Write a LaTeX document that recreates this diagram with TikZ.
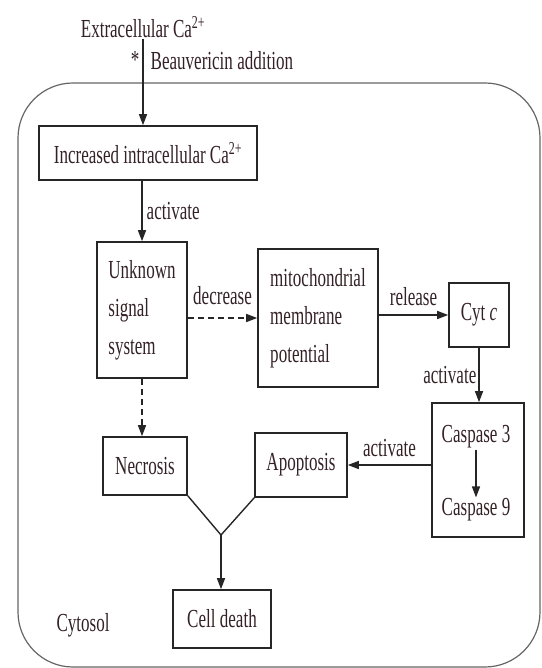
\documentclass[tikz,border=0pt]{standalone}
\usepackage{fontspec}
\setmainfont[FakeStretch=0.655]{Liberation Serif}
\usepackage{tikz}
\usetikzlibrary{arrows.meta}
\definecolor{figline}{rgb}{0.15,0.15,0.15}
\definecolor{figwall}{rgb}{0.40,0.40,0.40}
\definecolor{figtext}{rgb}{0.20,0.13,0.15}

\begin{document}
\begin{tikzpicture}[
  x=1pt,y=-1pt,
  font=\fontsize{26}{38}\selectfont,
  box/.style={draw=figline,line width=1.6pt,inner sep=0pt,align=left,text=figtext},
  lbl/.style={text=figtext,inner sep=1pt},
  conn/.style={draw=figline,line width=1.4pt},
  dashline/.style={dash pattern=on 6pt off 4pt},
  >={Triangle[length=11pt,width=8pt]}
]
\useasboundingbox (0,0) rectangle (541,668);
\draw[figwall,line width=1.2pt,rounded corners=55pt] (18,83) rectangle (540,667);

\node[lbl] (ext) at (143,27) {Extracellular Ca\textsuperscript{2+}};
\node[box,minimum width=218pt,minimum height=54pt] (inc) at (148,153) {Increased intracellular Ca\textsuperscript{2+}};
\node[box,minimum width=90pt,minimum height=136pt] (unk) at (142,310) {Unknown\\signal\\system};
\node[box,minimum width=120pt,minimum height=138pt] (mito) at (318,318) {mitochondrial\\membrane\\potential};
\node[box,minimum width=60pt,minimum height=64pt] (cyt) at (479,315) {Cyt \textit{c}};
\node[box,minimum width=92pt,minimum height=134pt] (casp) at (478,470) {};
\node[lbl] (c3) at (476,437) {Caspase 3};
\node[lbl] (c9) at (476,510) {Caspase 9};
\node[box,minimum width=92pt,minimum height=64pt] (apo) at (301,465) {Apoptosis};
\node[box,minimum width=84pt,minimum height=58pt] (nec) at (145,466) {Necrosis};
\node[box,minimum width=98pt,minimum height=58pt] (death) at (222,619) {Cell death};
\node[lbl] (cyto) at (83,625) {Cytosol};
\coordinate (join) at (221,535);

\draw[conn,->] (ext.south) -- (ext.south |- inc.north)
  node[lbl,pos=0.25,left=2pt] {*}
  node[lbl,pos=0.25,right=6pt] {Beauvericin addition};
\draw[conn,->] (inc.south -| unk.north) -- (unk.north) node[lbl,midway,right=3pt] {activate};
\draw[conn,dashline,->] (unk.east |- mito.west) -- (mito.west) node[lbl,midway,above=12pt] {decrease};
\draw[conn,->] (mito.east |- cyt.west) -- (cyt.west) node[lbl,midway,above=8pt] {release};
\draw[conn,->] (cyt.south) -- (cyt.south |- casp.north) node[lbl,midway,left=1pt] {activate};
\draw[conn,->] (c3.south) -- (c9.north);
\draw[conn,->] (casp.west |- apo.east) -- (apo.east) node[lbl,midway,above=7pt] {activate};
\draw[conn,dashline,->] (unk.south) -- (unk.south |- nec.north);
\draw[conn] (nec.south east) -- (join) -- (apo.south west);
\draw[conn,->] (join) -- (join |- death.north);
\end{tikzpicture}
\end{document}
